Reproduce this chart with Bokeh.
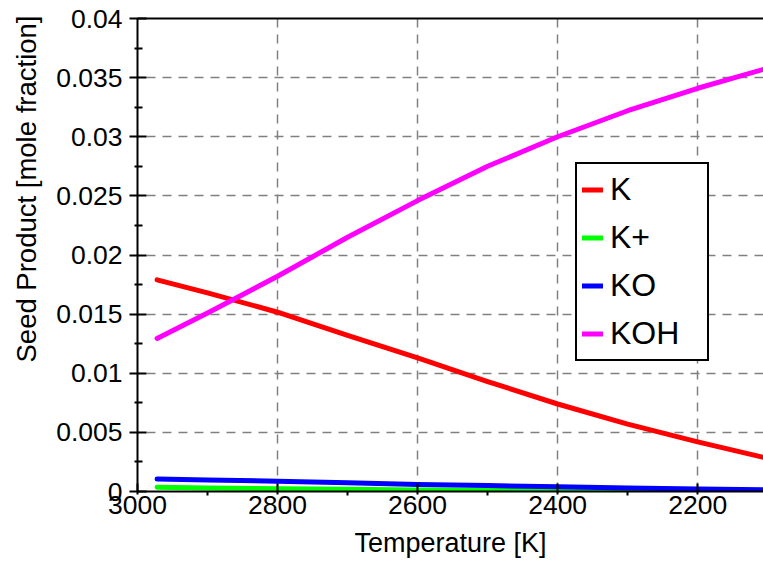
from bokeh.plotting import figure
from bokeh.models import (Range1d, FixedTicker, LinearAxis, Legend, LegendItem,
                          Title, CustomJSTickFormatter)
from bokeh.embed import file_html
from bokeh.resources import INLINE

# ---- data ----
temperature = [2972, 2900, 2800, 2700, 2600, 2500, 2400, 2300, 2200, 2100]
k_vals = [0.0179, 0.0168, 0.01516, 0.0132, 0.0113, 0.0093, 0.0074, 0.0057, 0.0042, 0.0028]
k_plus_vals = [0.00036, 0.0003, 0.00024, 0.00018, 0.00013, 0.0001, 0.00007, 0.00005, 0.00003, 0.00002]
ko_vals = [0.00105, 0.00097, 0.00087, 0.00073, 0.0006, 0.0005, 0.0004, 0.0003, 0.00022, 0.00015]
koh_vals = [0.01294, 0.0151, 0.0182, 0.0215, 0.0246, 0.0275, 0.0300, 0.0322, 0.0341, 0.0358]

series_names = ["K", "K+", "KO", "KOH"]
series_colors = ["#ff0000", "#00ff00", "#0000ff", "#ff00ff"]

x_ticks = [3000, 2800, 2600, 2400, 2200]
x_minor_ticks = [2900, 2700, 2500, 2300, 2100]
y_ticks = [0, 0.005, 0.01, 0.015, 0.02, 0.025, 0.03, 0.035, 0.04]
y_tick_labels = ["0", "0.005", "0.01", "0.015", "0.02", "0.025", "0.03", "0.035", "0.04"]
y_minor_ticks = [0.0025, 0.0075, 0.0125, 0.0175, 0.0225, 0.0275, 0.0325, 0.0375]

x_label = "Temperature [K]"
y_label = "Seed Product [mole fraction]"

FONT = "Liberation Sans"

p = figure(width=763, height=563, output_backend="svg", toolbar_location=None,
           x_range=Range1d(3000, 2106), y_range=Range1d(0, 0.04),
           min_border_left=137, min_border_right=0, min_border_top=18,
           min_border_bottom=72, background_fill_color="white",
           border_fill_color="white")
p.outline_line_color = None

series = [k_vals, k_plus_vals, ko_vals, koh_vals]
renderers = []
for vals, col in zip(series, series_colors):
    r = p.line(temperature, vals, line_color=col, line_width=5, line_cap="round",
               line_join="round")
    renderers.append(r)

# axes
xaxis = p.xaxis[0]
xaxis.ticker = FixedTicker(ticks=x_ticks, minor_ticks=x_minor_ticks)
xaxis.axis_line_width = 2
xaxis.major_tick_line_width = 2
xaxis.minor_tick_line_width = 2
xaxis.major_tick_in = 8
xaxis.major_tick_out = 3
xaxis.minor_tick_in = 0
xaxis.minor_tick_out = 4
xaxis.major_label_standoff = 0
xaxis.major_label_text_font = FONT
xaxis.major_label_text_font_size = "26.5px"
xaxis.major_label_text_color = "black"
xaxis.axis_label = x_label
xaxis.axis_label_text_font = FONT
xaxis.axis_label_text_font_size = "27px"
xaxis.axis_label_text_font_style = "normal"
xaxis.axis_label_text_color = "black"
xaxis.axis_label_standoff = 11

yaxis = p.yaxis[0]
yaxis.ticker = FixedTicker(ticks=y_ticks, minor_ticks=y_minor_ticks)
yaxis.formatter = CustomJSTickFormatter(
    args=dict(tick_vals=y_ticks, tick_texts=y_tick_labels),
    code="""
    for (let i = 0; i < tick_vals.length; i++) {
        if (Math.abs(tick_vals[i] - tick) < 1e-9) { return tick_texts[i]; }
    }
    return tick.toString();
    """)
yaxis.axis_line_width = 2
yaxis.major_tick_line_width = 2
yaxis.minor_tick_line_width = 2
yaxis.major_tick_in = 9
yaxis.major_tick_out = 8
yaxis.minor_tick_in = 5
yaxis.minor_tick_out = 3
yaxis.major_label_standoff = 7
yaxis.major_label_text_font = FONT
yaxis.major_label_text_font_size = "26.5px"
yaxis.major_label_text_color = "black"

# top border
top_axis = LinearAxis(ticker=FixedTicker(ticks=[]), axis_line_width=2,
                      major_tick_in=0, major_tick_out=0,
                      minor_tick_in=0, minor_tick_out=0)
p.add_layout(top_axis, "above")

# y axis title as a side title so it can be offset like the reference
ytitle = Title(text=y_label, align="left", offset=129, standoff=20,
               vertical_align="top",
               text_font=FONT, text_font_size="27.5px", text_font_style="normal",
               text_color="black")
p.add_layout(ytitle, "left")

# grid
for g in (p.xgrid[0], p.ygrid[0]):
    g.grid_line_color = "#808080"
    g.grid_line_width = 1.5
    g.grid_line_dash = "9 7"
p.xgrid[0].ticker = FixedTicker(ticks=x_ticks)
p.ygrid[0].ticker = FixedTicker(ticks=y_ticks)

legend = Legend(items=[LegendItem(label=n, renderers=[r]) for n, r in zip(series_names, renderers)],
                location=(438, 130), border_line_color="black", border_line_width=2,
                border_line_alpha=1,
                background_fill_color="white", background_fill_alpha=1,
                label_text_font=FONT, label_text_font_size="32px", label_text_color="black",
                glyph_width=21, glyph_height=41, label_height=41, label_width=92,
                label_standoff=7, padding=5, spacing=7, margin=0)
p.add_layout(legend)

open("out.html", "w").write(file_html(p, INLINE))
